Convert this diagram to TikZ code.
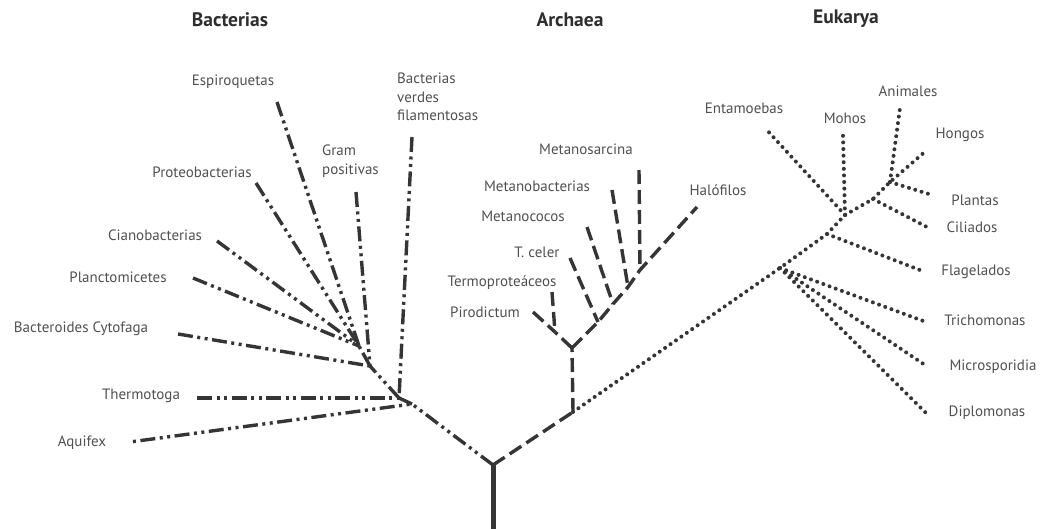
\documentclass[tikz,border=0pt]{standalone}
\usepackage{fontspec}
\setmainfont{PT Sans}
\definecolor{linegray}{HTML}{353535}
\definecolor{labelgray}{HTML}{505050}
\definecolor{hdrgray}{HTML}{2E2E2E}
\begin{document}
\begin{tikzpicture}[x=1pt,y=-1pt,
 lbl/.style={text=labelgray,font=\fontsize{15}{18.5}\selectfont,inner sep=0pt},
 hdr/.style={text=hdrgray,font=\bfseries\fontsize{19.5}{21}\selectfont,inner sep=0pt},
 bact/.style={draw=linegray,line width=3.4pt,dash pattern=on 15pt off 4.5pt on 3pt off 4.5pt on 3pt off 4.5pt},
 arch/.style={draw=linegray,line width=3.4pt,dash pattern=on 14pt off 6pt},
 euk/.style={draw=linegray,line width=4pt,line cap=round,dash pattern=on 0pt off 6.6pt},
 rootline/.style={draw=linegray,line width=5pt},
 ]
\useasboundingbox (0,0) rectangle (1042,529);
% headers
\node[hdr] (hB) at (230,20) {Bacterias};
\node[hdr] (hA) at (570,20) {Archaea};
\node[hdr] (hE) at (846,19) {Eukarya};
% root
\coordinate (R0) at (493,529);
\coordinate (R) at (493,465);
\draw[rootline] (R0) -- (R);
% bacteria junctions
\coordinate (B0) at (412,404);
\coordinate (B1) at (399,398);
\coordinate (B2) at (370,366);
\coordinate (B3) at (359,346);
% bacteria leaves
\coordinate (lAqu) at (130,442);
\coordinate (lThe) at (197,398);
\coordinate (lVer) at (412,137);
\coordinate (lBac) at (178,334);
\coordinate (lGra) at (356,192);
\coordinate (lEsp) at (277,102);
\coordinate (lPro) at (256,183);
\coordinate (lCia) at (217,241);
\coordinate (lPla) at (193,278);
\draw[bact] (R) -- (B0);
\draw[bact] (B0) -- (B1);
\draw[bact] (B1) -- (B2);
\draw[bact] (B2) -- (B3);
\draw[bact,dash phase=24pt] (lAqu) -- (B0);
\draw[bact] (lThe) -- (B1);
\draw[bact] (lVer) -- (B1);
\draw[bact] (lBac) -- (B2);
\draw[bact] (lGra) -- (B2);
\draw[bact] (lEsp) -- (B3);
\draw[bact] (lPro) -- (B3);
\draw[bact] (lCia) -- (B3);
\draw[bact] (lPla) -- (B3);
% archaea
\coordinate (A0) at (573,412);
\coordinate (A1) at (572,348);
\coordinate (A2) at (555,332);
\coordinate (A3) at (598,322);
\coordinate (A4) at (613,304);
\coordinate (A5) at (628,287);
\coordinate (A6) at (640,270);
\coordinate (lHal) at (697,207);
\coordinate (lPir) at (533,312);
\coordinate (lTer) at (552,292);
\coordinate (lTce) at (570,258);
\coordinate (lMco) at (587,227);
\coordinate (lMba) at (612,190);
\coordinate (lMsa) at (639,170);
\draw[arch] (R) -- (A0);
\draw[arch] (A0) -- (A1);
\draw[arch] (A1) -- (A2);
\draw[arch] (lPir) -- (A2);
\draw[arch] (lTer) -- (A2);
\draw[arch] (A1) -- (A3) -- (A4) -- (A5) -- (A6) -- (lHal);
\draw[arch] (lTce) -- (A3);
\draw[arch] (lMco) -- (A4);
\draw[arch] (lMba) -- (A5);
\draw[arch] (lMsa) -- (A6);
% eukarya
\coordinate (E1) at (780,268);
\coordinate (E2) at (827,234);
\coordinate (E3) at (845,215);
\coordinate (E4) at (873,199);
\coordinate (E5) at (890,182);
\coordinate (lDip) at (926,413);
\coordinate (lMic) at (928,367);
\coordinate (lTri) at (926,322);
\coordinate (lFla) at (925,272);
\coordinate (lEnt) at (765,128);
\coordinate (lMoh) at (843,135);
\coordinate (lCil) at (927,227);
\coordinate (lPlt) at (932,195);
\coordinate (lAni) at (900,108);
\coordinate (lHon) at (927,150);
\draw[euk] (A0) -- (E1) -- (E2) -- (E3) -- (E4) -- (E5) -- (lHon);
\draw[euk] (E1) -- (lDip);
\draw[euk] (E1) -- (lMic);
\draw[euk] (E1) -- (lTri);
\draw[euk] (E2) -- (lFla);
\draw[euk] (E3) -- (lEnt);
\draw[euk] (E3) -- (lMoh);
\draw[euk] (E4) -- (lCil);
\draw[euk] (E5) -- (lPlt);
\draw[euk] (E5) -- (lAni);
% bacteria labels
\node[lbl] (tEsp) at (233,82) {Espiroquetas};
\node[lbl] (tPro) at (202,172) {Proteobacterias};
\node[lbl] (tCia) at (155,235) {Cianobacterias};
\node[lbl] (tPla) at (118,277) {Planctomicetes};
\node[lbl] (tBac) at (81,329) {Bacteroides Cytofaga};
\node[lbl] (tThe) at (141,396) {Thermotoga};
\node[lbl] (tAqu) at (82,443) {Aquifex};
\node[lbl,align=left,anchor=north west] (tGra) at (322,145) {Gram\\positivas};
\node[lbl,align=left,anchor=north west] (tVer) at (397,73) {Bacterias\\verdes\\filamentosas};
% archaea labels
\node[lbl] (tMsa) at (586,149) {Metanosarcina};
\node[lbl] (tMba) at (537,186) {Metanobacterias};
\node[lbl] (tMco) at (523,216) {Metanococos};
\node[lbl] (tTce) at (537,252) {T. celer};
\node[lbl] (tTer) at (502,283) {Termoproteáceos};
\node[lbl] (tPir) at (485,312) {Pirodictum};
\node[lbl] (tHal) at (718,190) {Halófilos};
% eukarya labels
\node[lbl] (tEnt) at (744,108) {Entamoebas};
\node[lbl] (tMoh) at (845,118) {Mohos};
\node[lbl] (tAni) at (908,91) {Animales};
\node[lbl] (tHon) at (960,135) {Hongos};
\node[lbl] (tPlt) at (975,200) {Plantas};
\node[lbl] (tCil) at (972,227) {Ciliados};
\node[lbl] (tFla) at (976,272) {Flagelados};
\node[lbl] (tTri) at (985,320) {Trichomonas};
\node[lbl] (tMic) at (993,367) {Microsporidia};
\node[lbl] (tDip) at (987,413) {Diplomonas};
\end{tikzpicture}
\end{document}
